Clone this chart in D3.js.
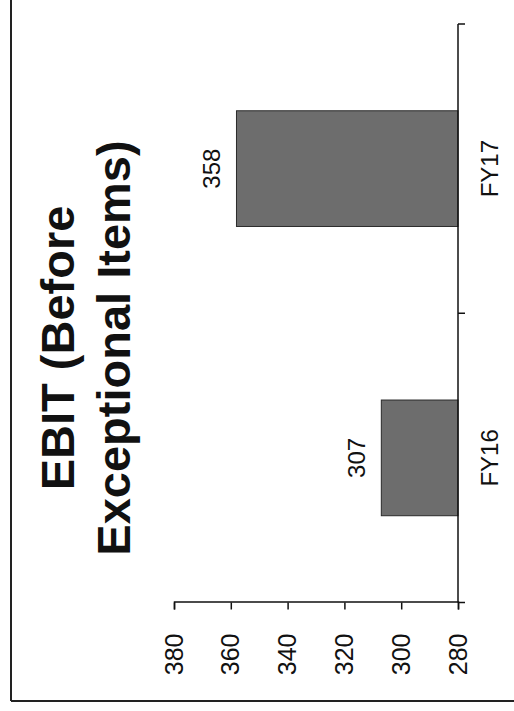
<!DOCTYPE html>
<html>
<head>
<meta charset="utf-8">
<script src="https://cdn.jsdelivr.net/npm/d3@7"></script>
<style>
  html, body { margin: 0; padding: 0; background: #fff; }
  svg { display: block; }
  text { font-family: "Liberation Sans", Arial, sans-serif; fill: #111; }
</style>
</head>
<body>
<script>
const categories = ["FY16", "FY17"];
const values = [307, 358];
const tickValues = [280, 300, 320, 340, 360, 380];
const titleLines = ["EBIT (Before", "Exceptional Items)"];

const W = 514, H = 711;
const svg = d3.select("body").append("svg").attr("width", W).attr("height", H);

// Whole chart is drawn in an unrotated frame (width H, height W) then turned -90deg.
const g = svg.append("g").attr("transform", `translate(0,${H}) rotate(-90)`);

// frame (left & top edges in unrotated frame)
g.append("line").attr("x1", 10).attr("x2", H).attr("y1", 11).attr("y2", 11)
  .attr("stroke", "#222").attr("stroke-width", 2);
g.append("line").attr("x1", 10).attr("x2", 10).attr("y1", 11).attr("y2", W)
  .attr("stroke", "#222").attr("stroke-width", 2);

const x = d3.scaleBand().domain(categories).range([108.5, 687])
  .paddingInner(0.6).paddingOuter(0.3);
const y = d3.scaleLinear().domain([280, 380]).range([458, 174]);

// title
const title = g.append("text").attr("text-anchor", "middle")
  .style("font-weight", "bold").style("font-size", "47px");
title.selectAll("tspan").data(titleLines).join("tspan")
  .attr("x", 363).attr("y", (d, i) => 74 + i * 56).text(d => d);

// bars
g.selectAll("rect.bar").data(values).join("rect").attr("class", "bar")
  .attr("x", (d, i) => x(categories[i]))
  .attr("width", x.bandwidth())
  .attr("y", d => y(d))
  .attr("height", d => y(280) - y(d))
  .attr("fill", "#6d6d6d").attr("stroke", "#2a2a2a").attr("stroke-width", 1);

// value labels
g.selectAll("text.val").data(values).join("text").attr("class", "val")
  .attr("x", (d, i) => x(categories[i]) + x.bandwidth() / 2)
  .attr("y", d => y(d) - 16)
  .attr("text-anchor", "middle").style("font-size", "24px")
  .text(d => d);

// value axis
const ay = g.append("g").attr("transform", "translate(108.5,0)")
  .call(d3.axisLeft(y).tickValues(tickValues).tickSize(7).tickPadding(24).tickFormat(d3.format("d")));
ay.selectAll("path, line").attr("stroke", "#111").attr("stroke-width", 1.5);
ay.selectAll("text").style("font-size", "25px").attr("fill", "#111")
  .style("font-family", '"Liberation Sans", Arial, sans-serif');

// category axis
const ax = g.append("g").attr("transform", "translate(0,458)");
ax.append("line").attr("x1", x.range()[0]).attr("x2", x.range()[1])
  .attr("stroke", "#111").attr("stroke-width", 1.5);
const step = x.step();
const bounds = [x.range()[0]].concat(categories.map(c => x(c) - step * x.paddingOuter() + step));
ax.selectAll("line.tk").data(bounds).join("line").attr("class", "tk")
  .attr("x1", d => d).attr("x2", d => d).attr("y1", 0).attr("y2", 7)
  .attr("stroke", "#111").attr("stroke-width", 1.5);
ax.selectAll("text").data(categories).join("text")
  .attr("x", d => x(d) + x.bandwidth() / 2).attr("y", 40)
  .attr("text-anchor", "middle").style("font-size", "24px").text(d => d);
</script>
</body>
</html>
